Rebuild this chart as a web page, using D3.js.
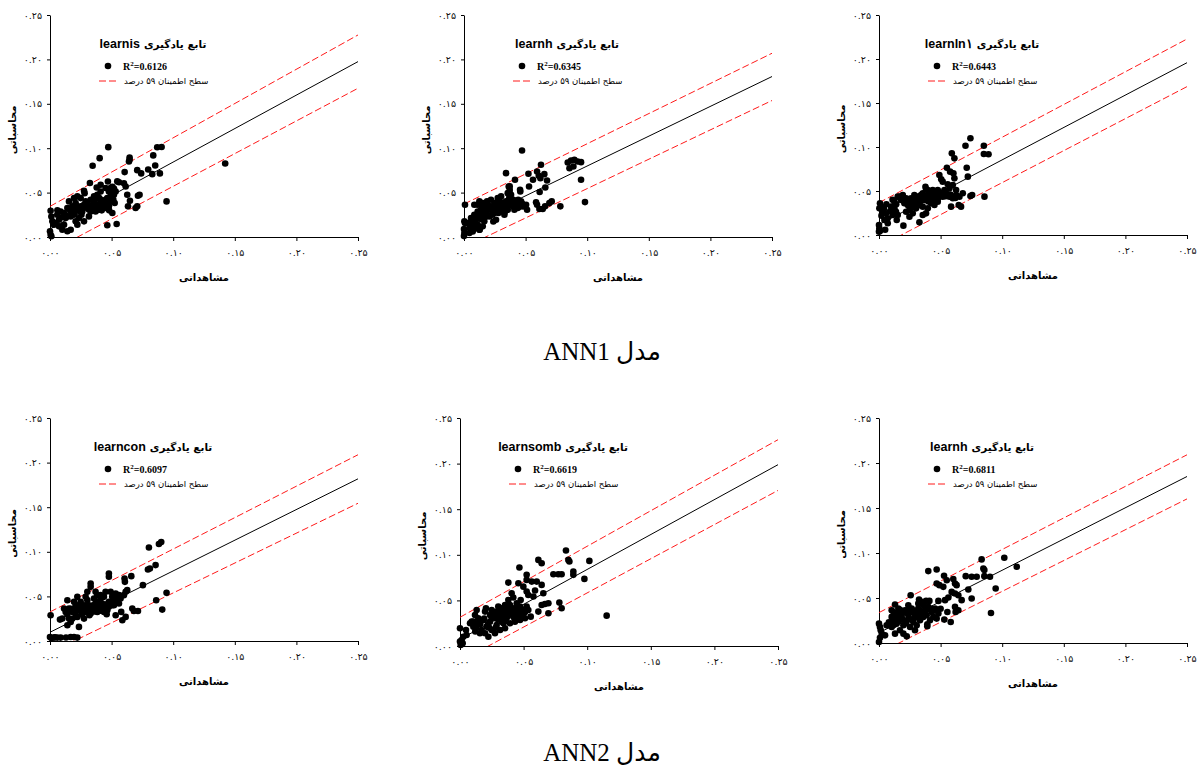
<!DOCTYPE html>
<html>
<head>
<meta charset="utf-8">
<title>ANN1 / ANN2</title>
<script src="https://d3js.org/d3.v7.min.js"></script>
<style>
  body { margin: 0; background: #fff; }
</style>
</head>
<body>
<div id="chart"></div>
<script>

// shared axis ticks (observed and simulated use the same scale)
var tickValues = [0, 0.05, 0.10, 0.15, 0.20, 0.25];
var tickLabels = ["۰.۰۰", "۰.۰۵", "۰.۱۰", "۰.۱۵", "۰.۲۰", "۰.۲۵"];

var funcNames = ["learnis", "learnh", "learnln۱", "learncon", "learnsomb", "learnh"];
var r2Values = ["0.6126", "0.6345", "0.6443", "0.6097", "0.6619", "0.6811"];
var captions = ["ANN1 مدل", "ANN2 مدل"];

// simulated value of each line at observed = 0 and observed = 0.25
var fitLines  = [[0.009, 0.1975], [0.0128, 0.1807], [0.0118, 0.1958], [0.0098, 0.1818], [0.0074, 0.1988], [0.0114, 0.185]];
var upperBand = [[0.0345, 0.2275], [0.0371, 0.2069], [0.0367, 0.2227], [0.0326, 0.2088], [0.0315, 0.2262], [0.0338, 0.2091]];
var lowerBand = [[-0.0165, 0.1675], [-0.0116, 0.1537], [-0.0132, 0.1686], [-0.0131, 0.1544], [-0.0167, 0.1706], [-0.0111, 0.1601]];

// [observed, simulated]
var pointsLearnis = [
  [0.0473,0.1012],[0.0403,0.0888],[0.0346,0.0802],[0.0646,0.0895],[0.0646,0.0869],[0.0641,0.0850],
  [0.0870,0.1010],[0.0906,0.1013],[0.0838,0.0919],[0.0854,0.0806],[0.0606,0.0731],[0.0708,0.0753],
  [0.0740,0.0716],[0.0797,0.0760],[0.0830,0.0708],[0.0892,0.0716],[0.1422,0.0828],[0.0946,0.0401],
  [0.0324,0.0608],[0.0470,0.0625],[0.0276,0.0520],[0.0281,0.0494],[0.0379,0.0558],[0.0411,0.0588],
  [0.0506,0.0566],[0.0519,0.0547],[0.0560,0.0617],[0.0600,0.0606],[0.0614,0.0569],[0.0533,0.0513],
  [0.0627,0.0476],[0.0714,0.0465],[0.0727,0.0476],[0.0649,0.0409],[0.0633,0.0345],[0.0708,0.0345],
  [0.0695,0.0326],[0.0514,0.0420],[0.0525,0.0383],[0.0506,0.0270],[0.0541,0.0147],[0.0465,0.0132],
  [0.0222,0.0139],[0.0168,0.0082],[0.0100,0.0082],[0.0141,0.0064],[0.0005,0.0296],[0.0011,0.0230],
  [0.0019,0.0176],[0.0032,0.0139],[0.0000,0.0064],[0.0005,0.0026],[0.0011,0.0008],
  [0.0059,0.0251],[0.0086,0.0288],[0.0114,0.0270],[0.0073,0.0195],[0.0127,0.0213],[0.0168,0.0232],
  [0.0195,0.0251],[0.0141,0.0326],[0.0181,0.0345],[0.0208,0.0382],[0.0154,0.0401],[0.0222,0.0307],
  [0.0249,0.0345],[0.0276,0.0363],[0.0262,0.0288],[0.0303,0.0326],[0.0289,0.0401],[0.0330,0.0420],
  [0.0357,0.0401],[0.0384,0.0438],[0.0411,0.0420],[0.0438,0.0401],[0.0465,0.0438],[0.0492,0.0457],
  [0.0357,0.0345],[0.0384,0.0363],[0.0424,0.0345],[0.0451,0.0326],[0.0478,0.0345],[0.0330,0.0288],
  [0.0316,0.0232],[0.0370,0.0288],[0.0397,0.0307],[0.0519,0.0476],[0.0276,0.0176],[0.0208,0.0176],
  [0.0235,0.0213],[0.0114,0.0138],[0.0046,0.0157],[0.0073,0.0120],[0.0478,0.0513],[0.0451,0.0551],
  [0.0492,0.0551],[0.0384,0.0476],[0.0357,0.0457],[0.0249,0.0438],[0.0195,0.0438],[0.0222,0.0457],
  [0.0411,0.0513],[0.0505,0.0513],[0.0546,0.0626],
  [0.0165,0.0290],[0.0190,0.0320],[0.0215,0.0350],[0.0240,0.0300],[0.0265,0.0330],[0.0290,0.0360],
  [0.0315,0.0310],[0.0340,0.0350],[0.0365,0.0380],[0.0390,0.0330],[0.0415,0.0380],[0.0440,0.0360],
  [0.0465,0.0390],[0.0300,0.0390],[0.0350,0.0420],[0.0400,0.0440],[0.0450,0.0420],[0.0255,0.0250],
  [0.0200,0.0270],[0.0130,0.0240],[0.0090,0.0220],[0.0060,0.0300],[0.0420,0.0300],[0.0480,0.0300],
  [0.0500,0.0400]
];

var pointsLearnh1 = [
  [0.0471,0.0974],[0.0341,0.0719],[0.0414,0.0644],[0.0455,0.0532],[0.0457,0.0513],[0.0363,0.0569],
  [0.0523,0.0712],[0.0528,0.0569],[0.0560,0.0644],[0.0607,0.0689],[0.0593,0.0738],[0.0625,0.0813],
  [0.0620,0.0663],[0.0652,0.0708],[0.0614,0.0506],[0.0660,0.0558],[0.0674,0.0637],[0.0842,0.0839],
  [0.0869,0.0862],[0.0896,0.0869],[0.0923,0.0851],[0.0950,0.0843],[0.0856,0.0775],[0.0888,0.0794],
  [0.0950,0.0644],[0.0982,0.0393],[0.0782,0.0345],[0.0712,0.0401],[0.0693,0.0382],[0.0658,0.0345],
  [0.0639,0.0315],[0.0612,0.0315],[0.0585,0.0390],[0.0593,0.0363],[0.0512,0.0307],[0.0490,0.0345],
  [0.0008,0.0363],[0.0003,0.0176],[0.0008,0.0157],[0.0000,0.0090],[0.0003,0.0045],[0.0000,0.0010],
  [0.0044,0.0045],[0.0371,0.0570],[0.0371,0.0530],[0.0371,0.0490],[0.0371,0.0450],[0.0238,0.0175],
  [0.0127,0.0082],
  [0.0030,0.0157],[0.0057,0.0213],[0.0071,0.0176],[0.0044,0.0101],[0.0084,0.0251],[0.0098,0.0195],
  [0.0111,0.0288],[0.0125,0.0232],[0.0138,0.0307],[0.0152,0.0251],[0.0165,0.0345],[0.0179,0.0288],
  [0.0192,0.0363],[0.0206,0.0307],[0.0219,0.0345],[0.0233,0.0288],[0.0247,0.0382],[0.0260,0.0326],
  [0.0274,0.0363],[0.0287,0.0420],[0.0301,0.0345],[0.0314,0.0382],[0.0328,0.0326],[0.0341,0.0401],
  [0.0355,0.0363],[0.0368,0.0438],[0.0382,0.0382],[0.0395,0.0345],[0.0409,0.0401],[0.0422,0.0363],
  [0.0436,0.0326],[0.0449,0.0363],[0.0463,0.0401],[0.0476,0.0345],[0.0504,0.0363],[0.0247,0.0270],
  [0.0206,0.0232],[0.0165,0.0176],[0.0125,0.0082],[0.0098,0.0101],[0.0071,0.0063],[0.0111,0.0138],
  [0.0152,0.0120],[0.0260,0.0195],[0.0301,0.0288],[0.0355,0.0307],[0.0409,0.0307],[0.0328,0.0251],
  [0.0382,0.0476],[0.0355,0.0494],[0.0301,0.0457],[0.0274,0.0438],[0.0219,0.0420],[0.0187,0.0401],
  [0.0152,0.0382],[0.0111,0.0363],[0.0084,0.0363],[0.0125,0.0401],
  [0.0150,0.0330],[0.0200,0.0340],[0.0240,0.0320],[0.0270,0.0390],[0.0290,0.0310],[0.0310,0.0360],
  [0.0340,0.0340],[0.0360,0.0400],[0.0390,0.0360],[0.0420,0.0380],[0.0450,0.0340],[0.0470,0.0380],
  [0.0330,0.0280],[0.0280,0.0270],[0.0230,0.0250],[0.0180,0.0230],[0.0140,0.0200],[0.0100,0.0230],
  [0.0080,0.0140],[0.0060,0.0120],[0.0400,0.0420],[0.0440,0.0420]
];

var pointsLearnlv = [
  [0.0742,0.1099],[0.0702,0.1015],[0.0851,0.1015],[0.0851,0.0920],[0.0889,0.0917],[0.0591,0.0928],
  [0.0612,0.0871],[0.0551,0.0765],[0.0577,0.0720],[0.0612,0.0644],[0.0604,0.0701],[0.0712,0.0765],
  [0.0721,0.0663],[0.0505,0.0633],[0.0517,0.0606],[0.0490,0.0682],[0.0377,0.0549],[0.0382,0.0523],
  [0.0742,0.0443],[0.0756,0.0455],[0.0856,0.0436],[0.0666,0.0322],[0.0647,0.0341],[0.0585,0.0322],
  [0.0328,0.0144],[0.0198,0.0106],[0.0071,0.0133],[0.0057,0.0246],[0.0071,0.0189],[0.0138,0.0265],
  [0.0152,0.0227],[0.0144,0.0170],
  [0.0008,0.0360],[0.0017,0.0322],[0.0003,0.0303],[0.0000,0.0114],[0.0003,0.0076],[0.0008,0.0045],
  [0.0000,0.0038],[0.0030,0.0265],[0.0044,0.0170],
  [0.0098,0.0322],[0.0125,0.0379],[0.0152,0.0436],[0.0179,0.0398],[0.0206,0.0360],[0.0233,0.0341],
  [0.0260,0.0417],[0.0287,0.0379],[0.0314,0.0436],[0.0341,0.0398],[0.0355,0.0474],[0.0382,0.0436],
  [0.0409,0.0417],[0.0423,0.0474],[0.0436,0.0455],[0.0463,0.0436],[0.0490,0.0455],[0.0517,0.0436],
  [0.0545,0.0474],[0.0572,0.0436],[0.0599,0.0417],[0.0626,0.0455],[0.0653,0.0436],[0.0680,0.0474],
  [0.0247,0.0284],[0.0274,0.0246],[0.0301,0.0303],[0.0328,0.0341],[0.0355,0.0322],[0.0396,0.0303],
  [0.0423,0.0360],[0.0450,0.0341],[0.0477,0.0379],[0.0369,0.0398],[0.0341,0.0455],[0.0287,0.0455],
  [0.0220,0.0417],[0.0193,0.0455],[0.0166,0.0436],[0.0125,0.0303],[0.0111,0.0227],[0.0220,0.0265],
  [0.0247,0.0208],[0.0382,0.0246],[0.0355,0.0227],[0.0572,0.0530],[0.0626,0.0511],[0.0531,0.0511],
  [0.0477,0.0511],[0.0436,0.0511],[0.0396,0.0511],[0.0599,0.0568],[0.0558,0.0576],
  [0.0110,0.0400],[0.0140,0.0350],[0.0200,0.0400],[0.0250,0.0380],[0.0300,0.0410],[0.0330,0.0370],
  [0.0370,0.0430],[0.0400,0.0380],[0.0440,0.0400],[0.0480,0.0420],[0.0510,0.0480],[0.0540,0.0440],
  [0.0580,0.0460],[0.0620,0.0420],[0.0450,0.0480],[0.0400,0.0460],[0.0310,0.0340],[0.0270,0.0320],
  [0.0060,0.0350],[0.0040,0.0300],[0.0020,0.0220],[0.0050,0.0060],[0.0090,0.0270]
];

var pointsLearncon = [
  [0.0884,0.1087],[0.0903,0.1109],[0.0803,0.1049],[0.0795,0.0802],[0.0811,0.0813],[0.0857,0.0851],
  [0.0754,0.0626],[0.0946,0.0540],[0.0862,0.0457],[0.0911,0.0352],[0.0660,0.0727],[0.0605,0.0701],
  [0.0608,0.0663],[0.0478,0.0757],[0.0478,0.0720],[0.0330,0.0645],[0.0330,0.0607],[0.0370,0.0551],
  [0.0384,0.0513],[0.0303,0.0551],[0.0141,0.0457],[0.0081,0.0240],[0.0100,0.0251],[0.0005,0.0289],
  [0.0587,0.0232],[0.0614,0.0270],[0.0668,0.0364],[0.0681,0.0337],[0.0714,0.0337],[0.0533,0.0289],
  [0.0578,0.0326],[0.0519,0.0401],[0.0560,0.0420],[0.0600,0.0514],[0.0614,0.0551],[0.0627,0.0570],
  [0.0573,0.0476],[0.0560,0.0514],[0.0492,0.0551],[0.0505,0.0495],[0.0533,0.0532],[0.0235,0.0158],
  [0.0000,0.0045],[0.0011,0.0034],[0.0032,0.0038],[0.0059,0.0038],[0.0086,0.0038],[0.0168,0.0045],
  [0.0195,0.0045],[0.0222,0.0038],
  [0.0127,0.0326],[0.0154,0.0364],[0.0181,0.0326],[0.0208,0.0401],[0.0235,0.0345],[0.0262,0.0383],
  [0.0289,0.0326],[0.0316,0.0401],[0.0343,0.0364],[0.0370,0.0420],[0.0397,0.0383],[0.0424,0.0420],
  [0.0451,0.0364],[0.0478,0.0439],[0.0505,0.0401],[0.0222,0.0270],[0.0276,0.0251],[0.0168,0.0214],
  [0.0141,0.0176],[0.0114,0.0364],[0.0195,0.0439],[0.0249,0.0439],[0.0303,0.0458],[0.0357,0.0476],
  [0.0411,0.0476],[0.0438,0.0495],[0.0384,0.0439],[0.0276,0.0401],[0.0330,0.0308],[0.0384,0.0326],
  [0.0438,0.0326],[0.0465,0.0345],[0.0478,0.0383],[0.0411,0.0514],[0.0451,0.0551],[0.0519,0.0458],
  [0.0546,0.0495],[0.0289,0.0495],[0.0222,0.0495],[0.0154,0.0251],
  [0.0140,0.0300],[0.0170,0.0360],[0.0200,0.0340],[0.0230,0.0400],[0.0260,0.0350],[0.0290,0.0380],
  [0.0320,0.0340],[0.0350,0.0400],[0.0380,0.0360],[0.0410,0.0400],[0.0440,0.0380],[0.0470,0.0420],
  [0.0500,0.0440],[0.0530,0.0460],[0.0260,0.0300],[0.0320,0.0290],[0.0360,0.0330],[0.0410,0.0340],
  [0.0460,0.0300],[0.0210,0.0290],[0.0180,0.0250],[0.0040,0.0042],[0.0130,0.0040]
];

var pointsLearnsomb = [
  [0.0467,0.0860],[0.0616,0.0944],[0.0642,0.0908],[0.0833,0.1047],[0.0852,0.0944],[0.0860,0.0926],
  [0.1017,0.0933],[0.0891,0.0816],[0.0891,0.0780],[0.0978,0.0736],[0.0734,0.0787],[0.0773,0.0787],
  [0.0799,0.0787],[0.0524,0.0780],[0.0524,0.0725],[0.0564,0.0706],[0.0603,0.0706],[0.0642,0.0670],
  [0.0655,0.0578],[0.0590,0.0608],[0.0380,0.0695],[0.0459,0.0688],[0.0498,0.0651],[0.0406,0.0578],
  [0.0419,0.0531],[0.0477,0.0505],[0.0524,0.0597],[0.0537,0.0560],[0.0577,0.0542],[0.0781,0.0476],
  [0.0799,0.0414],[0.0695,0.0468],[0.0668,0.0461],[0.0642,0.0450],[0.0616,0.0377],[0.0695,0.0359],
  [0.1153,0.0333],[0.0556,0.0322],[0.0524,0.0432],[0.0537,0.0395],[0.0223,0.0102],[0.0000,0.0194],
  [0.0000,0.0048],[0.0013,0.0066],[0.0021,0.0029],[0.0005,0.0011],[0.0026,0.0102],[0.0052,0.0121],
  [0.0047,0.0176],[0.0079,0.0249],[0.0092,0.0267],[0.0131,0.0395],[0.0118,0.0340],[0.0204,0.0414],
  [0.0197,0.0377],[0.0354,0.0194],
  [0.0105,0.0212],[0.0144,0.0249],[0.0170,0.0176],[0.0197,0.0139],[0.0210,0.0212],[0.0236,0.0267],
  [0.0249,0.0176],[0.0275,0.0304],[0.0288,0.0231],[0.0315,0.0340],[0.0328,0.0267],[0.0354,0.0359],
  [0.0367,0.0304],[0.0393,0.0377],[0.0419,0.0322],[0.0446,0.0359],[0.0472,0.0285],[0.0432,0.0267],
  [0.0393,0.0249],[0.0341,0.0249],[0.0301,0.0432],[0.0328,0.0414],[0.0354,0.0450],[0.0393,0.0450],
  [0.0432,0.0414],[0.0459,0.0395],[0.0472,0.0432],[0.0498,0.0359],[0.0380,0.0505],[0.0275,0.0139],
  [0.0315,0.0176],[0.0236,0.0340],[0.0183,0.0285],[0.0144,0.0304],[0.0105,0.0267],[0.0157,0.0139],
  [0.0249,0.0395],[0.0288,0.0377],[0.0341,0.0395],[0.0406,0.0414],[0.0446,0.0468],[0.0485,0.0340],
  [0.0511,0.0304],
  [0.0160,0.0240],[0.0190,0.0300],[0.0220,0.0240],[0.0250,0.0310],[0.0270,0.0350],[0.0300,0.0290],
  [0.0310,0.0380],[0.0340,0.0320],[0.0360,0.0400],[0.0380,0.0340],[0.0410,0.0370],[0.0430,0.0300],
  [0.0450,0.0330],[0.0460,0.0420],[0.0490,0.0400],[0.0350,0.0270],[0.0280,0.0200],[0.0230,0.0200],
  [0.0130,0.0200],[0.0120,0.0160],[0.0400,0.0420],[0.0510,0.0370]
];

var pointsLearnh2 = [
  [0.1017,0.0947],[0.1118,0.0847],[0.0833,0.0929],[0.0847,0.0828],[0.0855,0.0810],[0.0704,0.0743],
  [0.0752,0.0736],[0.0793,0.0736],[0.0855,0.0743],[0.0901,0.0736],[0.0725,0.0594],[0.0752,0.0494],
  [0.0947,0.0606],[0.0909,0.0334],[0.0468,0.0817],[0.0400,0.0799],[0.0528,0.0747],[0.0550,0.0698],
  [0.0603,0.0710],[0.0468,0.0661],[0.0490,0.0643],[0.0522,0.0624],[0.0617,0.0661],[0.0630,0.0643],
  [0.0590,0.0568],[0.0617,0.0550],[0.0644,0.0531],[0.0671,0.0476],[0.0563,0.0505],[0.0536,0.0476],
  [0.0482,0.0468],[0.0257,0.0531],[0.0325,0.0483],[0.0346,0.0457],[0.0382,0.0468],[0.0409,0.0468],
  [0.0617,0.0401],[0.0644,0.0364],[0.0622,0.0345],[0.0555,0.0345],[0.0530,0.0260],[0.0582,0.0234],
  [0.0392,0.0208],[0.0392,0.0186],[0.0130,0.0427],[0.0225,0.0074],[0.0000,0.0215],[0.0008,0.0178],
  [0.0014,0.0141],[0.0022,0.0104],[0.0008,0.0059],[0.0000,0.0011],[0.0049,0.0085],
  [0.0103,0.0364],[0.0130,0.0308],[0.0157,0.0383],[0.0184,0.0327],[0.0211,0.0364],[0.0238,0.0308],
  [0.0265,0.0383],[0.0292,0.0327],[0.0319,0.0383],[0.0346,0.0327],[0.0373,0.0364],[0.0400,0.0401],
  [0.0428,0.0345],[0.0455,0.0383],[0.0482,0.0327],[0.0116,0.0253],[0.0143,0.0215],[0.0170,0.0141],
  [0.0198,0.0197],[0.0225,0.0253],[0.0252,0.0178],[0.0279,0.0234],[0.0306,0.0197],[0.0333,0.0253],
  [0.0360,0.0290],[0.0103,0.0178],[0.0076,0.0197],[0.0130,0.0104],[0.0198,0.0104],[0.0292,0.0141],
  [0.0238,0.0420],[0.0319,0.0438],[0.0441,0.0290],[0.0414,0.0253],[0.0468,0.0271],[0.0184,0.0290],
  [0.0157,0.0271],[0.0103,0.0290],[0.0062,0.0197],[0.0360,0.0420],[0.0387,0.0308],
  [0.0120,0.0340],[0.0150,0.0320],[0.0170,0.0370],[0.0200,0.0340],[0.0230,0.0360],[0.0250,0.0340],
  [0.0280,0.0360],[0.0300,0.0340],[0.0330,0.0360],[0.0360,0.0350],[0.0390,0.0370],[0.0420,0.0380],
  [0.0440,0.0360],[0.0470,0.0370],[0.0160,0.0240],[0.0190,0.0260],[0.0220,0.0220],[0.0260,0.0260],
  [0.0290,0.0280],[0.0330,0.0300],[0.0140,0.0290],[0.0120,0.0200],[0.0080,0.0230],[0.0500,0.0380]
];

var allPoints = [pointsLearnis, pointsLearnh1, pointsLearnlv, pointsLearncon, pointsLearnsomb, pointsLearnh2];

// layout: plot box of each panel on the page
var boxes = [
  {left: 50,  right: 358,  top: 15,  bottom: 237},
  {left: 464, right: 772,  top: 15,  bottom: 237},
  {left: 879, right: 1187, top: 15,  bottom: 235},
  {left: 50,  right: 358,  top: 418, bottom: 641},
  {left: 460, right: 778,  top: 418, bottom: 646},
  {left: 879, right: 1187, top: 418, bottom: 643}
];

var faFont = "DejaVu Sans, sans-serif";
var svg = d3.select("#chart").append("svg")
  .attr("width", 1198)
  .attr("height", 769)
  .style("background", "#fff");

boxes.forEach(function(b, i) {
  var x = d3.scaleLinear().domain([0, 0.25]).range([b.left, b.right]);
  var y = d3.scaleLinear().domain([0, 0.25]).range([b.bottom, b.top]);
  var g = svg.append("g");

  svg.append("clipPath").attr("id", "clip" + i)
    .append("rect")
      .attr("x", b.left).attr("y", b.top)
      .attr("width", b.right - b.left).attr("height", b.bottom - b.top);

  // axes
  var xAxis = g.append("g")
    .attr("transform", "translate(0," + b.bottom + ")")
    .call(d3.axisBottom(x).tickValues(tickValues)
      .tickFormat(function(d, j) { return tickLabels[j]; })
      .tickSize(4).tickSizeOuter(0).tickPadding(8));
  var yAxis = g.append("g")
    .attr("transform", "translate(" + b.left + ",0)")
    .call(d3.axisLeft(y).tickValues(tickValues)
      .tickFormat(function(d, j) { return tickLabels[j]; })
      .tickSize(3).tickSizeOuter(0).tickPadding(5));
  [xAxis, yAxis].forEach(function(a) {
    a.attr("font-family", faFont).attr("font-size", 9.5);
    a.selectAll("text").attr("fill", "#111").style("letter-spacing", "1px");
    a.selectAll("path, line").attr("stroke", "#000");
  });

  // fit line and 95% bands
  var lineGen = d3.line()
    .x(function(d) { return x(d[0]); })
    .y(function(d) { return y(d[1]); });
  var lines = g.append("g").attr("clip-path", "url(#clip" + i + ")");
  lines.append("path")
    .datum([[0, upperBand[i][0]], [0.25, upperBand[i][1]]])
    .attr("d", lineGen)
    .attr("stroke", "#ff1a1a").attr("stroke-width", 1).attr("stroke-dasharray", "7,3").attr("fill", "none");
  lines.append("path")
    .datum([[0, lowerBand[i][0]], [0.25, lowerBand[i][1]]])
    .attr("d", lineGen)
    .attr("stroke", "#ff1a1a").attr("stroke-width", 1).attr("stroke-dasharray", "7,3").attr("fill", "none");
  lines.append("path")
    .datum([[0, fitLines[i][0]], [0.25, fitLines[i][1]]])
    .attr("d", lineGen)
    .attr("stroke", "#000").attr("stroke-width", 1).attr("fill", "none");

  // points
  g.append("g").selectAll("circle")
    .data(allPoints[i])
    .enter()
    .append("circle")
      .attr("cx", function(d) { return x(d[0]); })
      .attr("cy", function(d) { return y(d[1]); })
      .attr("r", 3.3)
      .attr("fill", "#000");

  // axis titles
  g.append("text")
    .attr("x", (b.left + b.right) / 2)
    .attr("y", b.bottom + 44)
    .attr("text-anchor", "middle")
    .attr("font-family", faFont).attr("font-size", 10).attr("font-weight", "bold")
    .text("مشاهداتی");
  g.append("text")
    .attr("transform", "translate(" + (b.left - 34) + "," + ((b.top + b.bottom) / 2 + 4) + ") rotate(-90)")
    .attr("text-anchor", "middle")
    .attr("font-family", faFont).attr("font-size", 10).attr("font-weight", "bold")
    .text("محاسباتی");

  // panel title: function name + persian label, centred
  var title = g.append("g");
  var t1 = title.append("text")
    .attr("x", 0).attr("y", 0)
    .attr("font-family", "Liberation Sans, Arial, sans-serif")
    .attr("font-size", 12.5).attr("font-weight", "bold")
    .text(funcNames[i]);
  var w1 = t1.node().getComputedTextLength();
  var t2 = title.append("text")
    .attr("x", w1 + 4).attr("y", 0)
    .attr("font-family", faFont)
    .attr("font-size", 10.5).attr("font-weight", "bold")
    .style("letter-spacing", "1px")
    .text("تابع یادگیری");
  var w2 = t2.node().getComputedTextLength();
  title.attr("transform", "translate(" + (b.left + 103 - (w1 + 4 + w2) / 2) + "," + (b.top + 33) + ")");

  // legend
  g.append("circle")
    .attr("cx", b.left + 58).attr("cy", b.top + 51).attr("r", 3.3).attr("fill", "#000");
  var r2 = g.append("text")
    .attr("x", b.left + 73).attr("y", b.top + 55)
    .attr("font-family", "Liberation Serif, Times New Roman, serif")
    .attr("font-size", 10).attr("font-weight", "bold");
  r2.append("tspan").text("R");
  r2.append("tspan").attr("font-size", 7).attr("dy", -4).text("2");
  r2.append("tspan").attr("dy", 4).text("=" + r2Values[i]);

  g.append("line")
    .attr("x1", b.left + 49).attr("x2", b.left + 69)
    .attr("y1", b.top + 66).attr("y2", b.top + 66)
    .attr("stroke", "#ff1a1a").attr("stroke-width", 1).attr("stroke-dasharray", "7,3");
  g.append("text")
    .attr("x", b.left + 74).attr("y", b.top + 69)
    .attr("font-family", faFont).attr("font-size", 8.5)
    .text("سطح اطمینان ۵۹ درصد");
});

// row captions
var captionY = [360, 761];
captions.forEach(function(c, k) {
  svg.append("text")
    .attr("x", 602).attr("y", captionY[k])
    .attr("text-anchor", "middle")
    .attr("font-family", "Liberation Serif, DejaVu Sans, serif")
    .attr("font-size", 25)
    .text(c);
});

</script>
</body>
</html>
